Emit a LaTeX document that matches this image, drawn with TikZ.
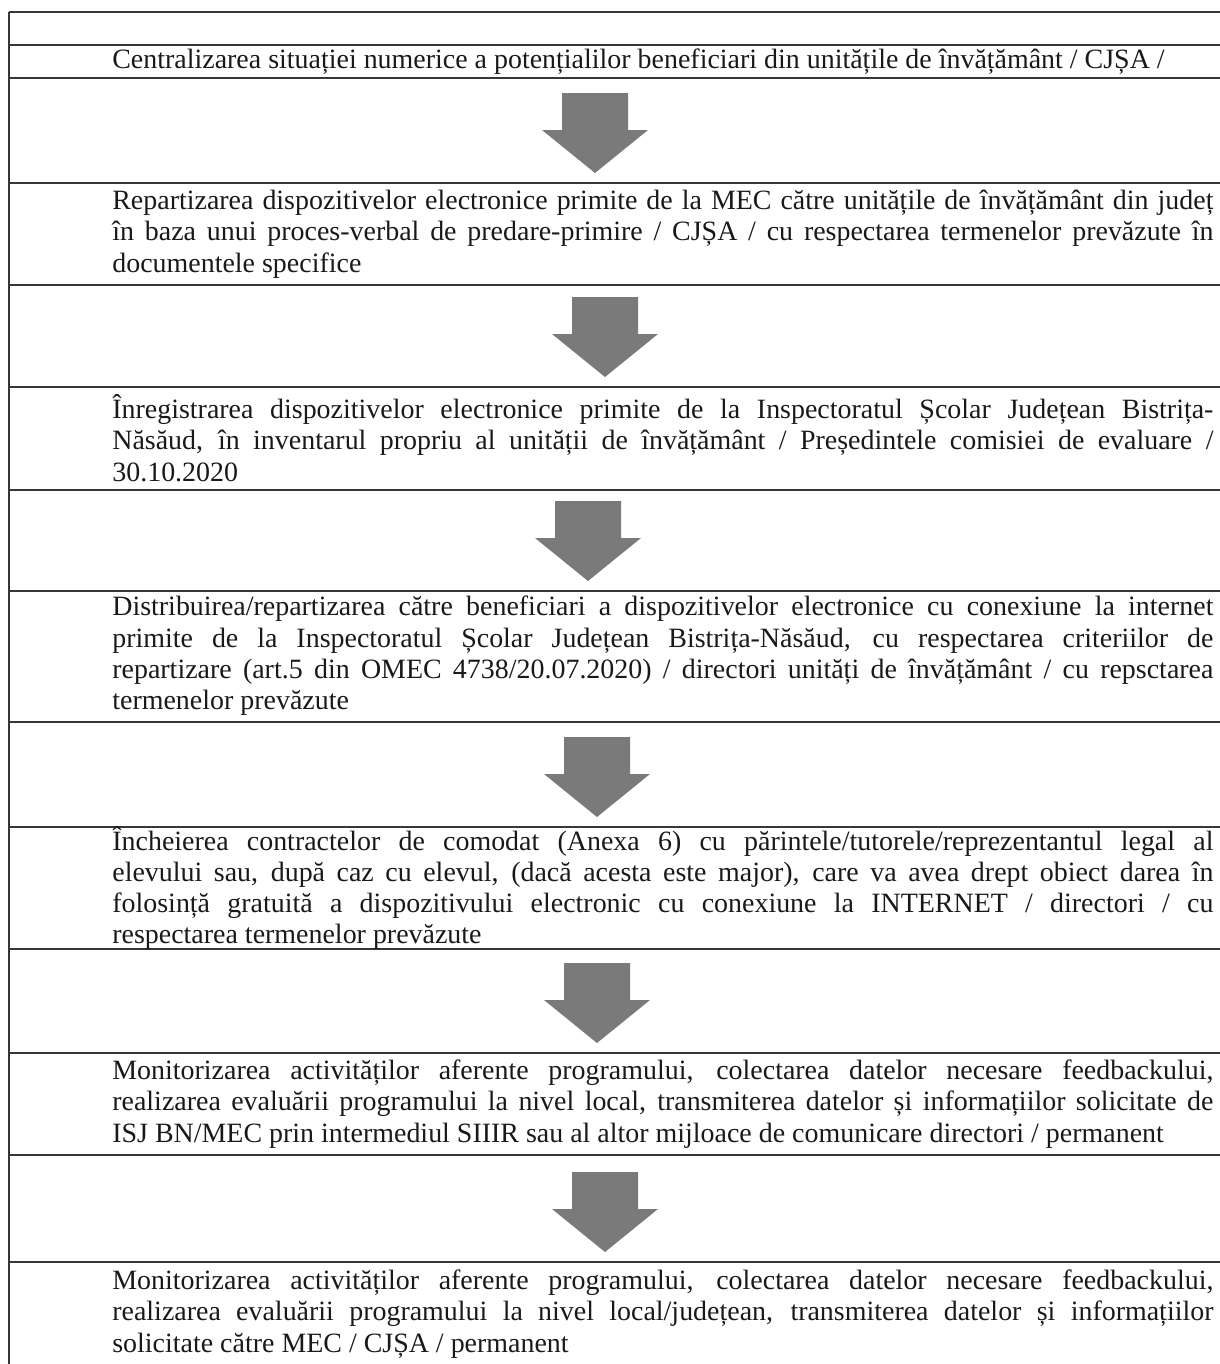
\documentclass[tikz,border=0pt]{standalone}
\usepackage{fontspec}
\setmainfont{Liberation Serif}
\usetikzlibrary{positioning}
\definecolor{ruleGray}{RGB}{55,55,55}
\definecolor{arrowGray}{RGB}{122,122,122}
\definecolor{scanText}{RGB}{25,25,25}
\tikzset{
    tablerule/.style={draw=ruleGray, line width=0.6pt},
    steptext/.style={
        rectangle,
        inner sep=0pt,
        anchor=west,
        text width=220.2mm,
        align=justify,
        text=scanText,
        font=\fontsize{15.9}{17.8}\selectfont
    },
    downarrow/.pic={
        \fill[arrowGray] (-33,0) -- (33,0) -- (33,37) -- (53,37) -- (0,80) -- (-53,37) -- (-33,37) -- cycle;
    }
}

\begin{document}
\begin{tikzpicture}[x=0.2mm, y=-0.2mm]
    \useasboundingbox (0,0) rectangle (1220,1364);
    % table rules
    \foreach \yr in {12,45,78,183,285,387,490,591,722,827,949,1053,1155,1262}
        \draw[tablerule] (9,\yr) -- (1220,\yr);
    \draw[tablerule] (9,12) -- (9,1364);

    % steps
    \node[steptext] (centralizare) at (112,62) {Centralizarea situației numerice a potențialilor beneficiari din unitățile de învățământ / CJȘA /};
    \node[steptext] (repartizare) at (112,234) {Repartizarea dispozitivelor electronice primite de la MEC către unitățile de învățământ din județ\linebreak în baza unui proces-verbal de predare-primire / CJȘA / cu respectarea termenelor prevăzute în\linebreak documentele specifice};
    \node[steptext] (inregistrare) at (112,438) {Înregistrarea dispozitivelor electronice primite de la Inspectoratul Școlar Județean Bistrița-\linebreak Năsăud, în inventarul propriu al unității de învățământ / Președintele comisiei de evaluare /\linebreak 30.10.2020};
    \node[steptext] (distribuire) at (112,656) {Distribuirea/repartizarea către beneficiari a dispozitivelor electronice cu conexiune la internet\linebreak primite de la Inspectoratul Școlar Județean Bistrița-Năsăud, cu respectarea criteriilor de\linebreak repartizare (art.5 din OMEC 4738/20.07.2020) / directori unități de învățământ / cu repsctarea\linebreak termenelor prevăzute};
    \node[steptext] (comodat) at (112,888) {Încheierea contractelor de comodat (Anexa 6) cu părintele/tutorele/reprezentantul legal al\linebreak elevului sau, după caz cu elevul, (dacă acesta este major), care va avea drept obiect darea în\linebreak folosință gratuită a dispozitivului electronic cu conexiune la INTERNET / directori / cu\linebreak respectarea termenelor prevăzute};
    \node[steptext] (monitorLocal) at (112,1104) {Monitorizarea activităților aferente programului, colectarea datelor necesare feedbackului,\linebreak realizarea evaluării programului la nivel local, transmiterea datelor și informațiilor solicitate de\linebreak ISJ BN/MEC prin intermediul SIIIR sau al altor mijloace de comunicare directori / permanent};
    \node[steptext] (monitorJud) at (112,1314) {Monitorizarea activităților aferente programului, colectarea datelor necesare feedbackului,\linebreak realizarea evaluării programului la nivel local/județean, transmiterea datelor și informațiilor\linebreak solicitate către MEC / CJȘA / permanent};

    % arrows between steps
    \foreach \xa/\ya in {595/93, 605/297, 588/501, 597/737, 597/963, 605/1172}
        \pic at (\xa,\ya) {downarrow};
\end{tikzpicture}
\end{document}
